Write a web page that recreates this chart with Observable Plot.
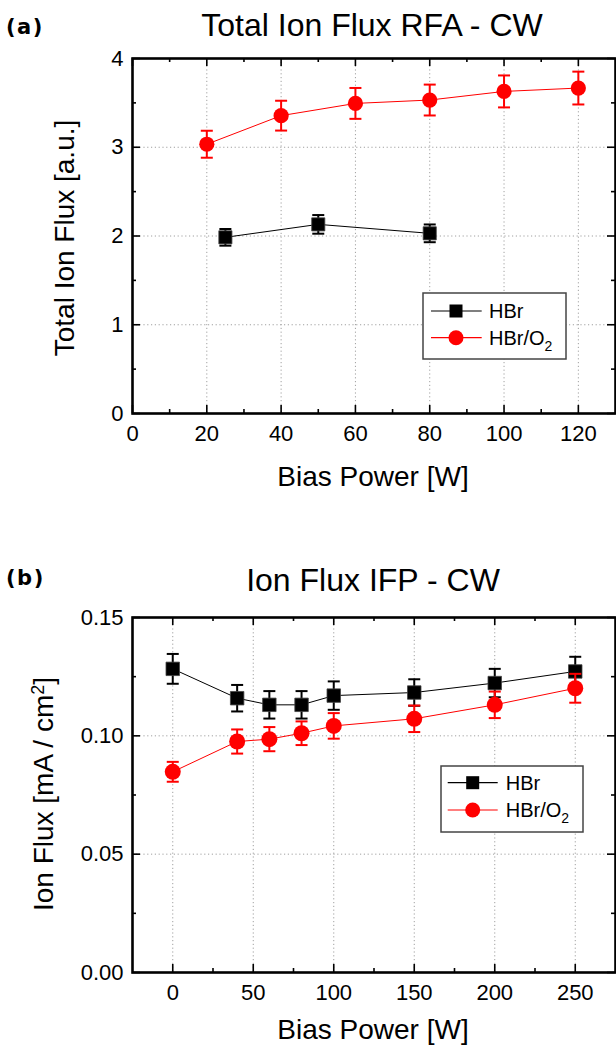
<!DOCTYPE html>
<html><head><meta charset="utf-8">
<script src="https://cdn.jsdelivr.net/npm/d3@7"></script>
<script src="https://cdn.jsdelivr.net/npm/@observablehq/plot@0.6"></script>
<style>
html,body{margin:0;padding:0;background:#fff;}
#root{position:relative;width:616px;height:1049px;overflow:hidden;font-family:"Liberation Sans",Arial,sans-serif;color:#000;background:#fff;}
.abs{position:absolute;white-space:nowrap;line-height:1;}
.title{font-size:32px;transform:translateX(-50%);}
.panel{font-family:"DejaVu Sans",Verdana,sans-serif;font-weight:bold;font-size:21px;letter-spacing:1.5px;}
.xlab{font-size:28px;transform:translateX(-50%);}
.ylab{font-size:28px;transform:translate(-50%,-50%) rotate(-90deg);}
.ylab sup{font-size:18px;line-height:0;vertical-align:9px;}
.plot{position:absolute;left:0;}
</style></head>
<body><div id="root"></div>
<script>
// ---------- data: panel (a) Total Ion Flux RFA - CW ----------
const powerA_HBr = [25, 50, 80];
const fluxA_HBr  = [1.985, 2.131, 2.030];
const errA_HBr   = [0.094, 0.105, 0.100];
const powerA_O2  = [20, 40, 60, 80, 100, 120];
const fluxA_O2   = [3.034, 3.356, 3.494, 3.532, 3.629, 3.667];
const errA_O2    = [0.152, 0.168, 0.174, 0.174, 0.180, 0.185];

// ---------- data: panel (b) Ion Flux IFP - CW ----------
const powerB     = [0, 40, 60, 80, 100, 150, 200, 250];
const fluxB_HBr  = [0.1283, 0.1159, 0.1131, 0.1131, 0.1170, 0.1183, 0.1223, 0.1272];
const errB_HBr   = [0.0063, 0.0056, 0.0058, 0.0058, 0.0060, 0.0056, 0.0060, 0.0062];
const fluxB_O2   = [0.0848, 0.0976, 0.0986, 0.1011, 0.1042, 0.1072, 0.1131, 0.1201];
const errB_O2    = [0.0042, 0.0051, 0.0051, 0.0050, 0.0054, 0.0056, 0.0056, 0.0061];

// ---------- ticks ----------
const xMajorA = [0, 20, 40, 60, 80, 100, 120];
const xMinorA = [10, 30, 50, 70, 90, 110];
const yMajorA = [0, 1, 2, 3, 4];
const yMinorA = [0.5, 1.5, 2.5, 3.5];
const xMajorB = [0, 50, 100, 150, 200, 250];
const xMinorB = [25, 75, 125, 175, 225];
const yMajorB = [0, 0.05, 0.10, 0.15];
const yMinorB = [0.025, 0.075, 0.125];

const seriesNames = ["HBr", "HBr/O2"];
const seriesColors = ["#000000", "#ff0000"];

function rows(xs, ys, es) {
  return xs.map((x, i) => ({x, y: ys[i], lo: ys[i] - es[i], hi: ys[i] + es[i]}));
}

const capSymbol = {
  draw(ctx, size) { const w = Math.sqrt(size / Math.PI); ctx.moveTo(-w, 0); ctx.lineTo(w, 0); }
};

function seriesMarks(data, color, symbol, r) {
  return [
    Plot.line(data, {x: "x", y: "y", stroke: color, strokeWidth: 1}),
    Plot.ruleX(data, {x: "x", y1: "lo", y2: "hi", stroke: color, strokeWidth: 2}),
    Plot.dot(data, {x: "x", y: "hi", symbol: capSymbol, r: 6, stroke: color, strokeWidth: 2, fill: "none"}),
    Plot.dot(data, {x: "x", y: "lo", symbol: capSymbol, r: 6, stroke: color, strokeWidth: 2, fill: "none"}),
    Plot.dot(data, {x: "x", y: "y", symbol, r, fill: color, stroke: symbol === "square" ? "#444" : "none", strokeWidth: 0.8})
  ];
}

const W = 616, ML = 132, MR = 1;

function makePanel(o) {
  const grid = {stroke: "#a0a0a0", strokeOpacity: 1, strokeWidth: 1, strokeDasharray: "1.2,2.6"};
  const fh = o.height - o.mt - o.mb;   // frame height in px
  const fw = W - ML - MR;              // frame width in px
  const t = {stroke: "#000", strokeWidth: 1.6};
  const inward = (len) => [
    // bottom & top
    Plot.tickX(len === 8 ? o.xMajor : o.xMinor, {...t, x: d => d, insetTop: fh - len}),
    Plot.tickX(len === 8 ? o.xMajor : o.xMinor, {...t, x: d => d, insetBottom: fh - len}),
    // left & right
    Plot.tickY(len === 8 ? o.yMajor : o.yMinor, {...t, y: d => d, insetRight: fw - len}),
    Plot.tickY(len === 8 ? o.yMajor : o.yMinor, {...t, y: d => d, insetLeft: fw - len})
  ];
  return Plot.plot({
    width: W, height: o.height,
    marginTop: o.mt, marginBottom: o.mb, marginLeft: ML, marginRight: MR,
    x: {domain: o.xDomain},
    y: {domain: o.yDomain},
    style: {fontFamily: "'Liberation Sans', Arial, sans-serif", fontSize: "22px", color: "#000", background: "transparent", overflow: "visible"},
    marks: [
      Plot.gridX(o.xGrid, grid),
      Plot.gridY(o.yGrid, grid),
      ...o.series.flatMap(s => seriesMarks(s.data, s.color, s.symbol, s.r)),
      // tick labels
      Plot.axisX(o.xMajor, {label: null, anchor: "bottom", tickSize: 0, tickPadding: 12, tickFormat: o.xFmt}),
      Plot.axisY(o.yMajor, {label: null, anchor: "left", tickSize: 0, tickPadding: 9, tickFormat: o.yFmt}),
      // inward ticks on all four sides
      ...inward(8),
      ...inward(4),
      Plot.frame({stroke: "#000", strokeWidth: 2.6})
    ]
  });
}

const root = document.getElementById("root");

function addDiv(cls, html, left, top) {
  const d = document.createElement("div");
  d.className = "abs " + cls;
  d.innerHTML = html;
  d.style.left = left + "px";
  d.style.top = top + "px";
  root.appendChild(d);
  return d;
}

function addLegend(left, top, w, h, rowY, lineX1, lineX2, markX, textX) {
  const svg = d3.create("svg").attr("width", w + 2).attr("height", h + 2)
    .style("position", "absolute").style("left", (left - 1) + "px").style("top", (top - 1) + "px")
    .style("overflow", "visible");
  svg.append("rect").attr("x", 1).attr("y", 1).attr("width", w).attr("height", h)
    .attr("fill", "#fff").attr("stroke", "#444").attr("stroke-width", 1.5);
  seriesNames.forEach((name, i) => {
    const y = rowY[i] + 1, c = seriesColors[i];
    svg.append("line").attr("x1", lineX1 + 1).attr("x2", lineX2 + 1).attr("y1", y).attr("y2", y)
      .attr("stroke", c).attr("stroke-width", 1.2);
    if (i === 0) {
      svg.append("rect").attr("x", markX + 1 - 6.5).attr("y", y - 6.5).attr("width", 13).attr("height", 13).attr("fill", c);
    } else {
      svg.append("circle").attr("cx", markX + 1).attr("cy", y).attr("r", 7.5).attr("fill", c);
    }
    const t = svg.append("text").attr("x", textX + 1).attr("y", y + 7.2)
      .attr("font-family", "'Liberation Sans', Arial, sans-serif").attr("font-size", 20).attr("fill", "#000");
    if (name === "HBr/O2") {
      t.append("tspan").text("HBr/O");
      t.append("tspan").attr("dy", 6).attr("font-size", 14).text("2");
    } else t.text(name);
  });
  root.appendChild(svg.node());
}

// ---------- panel (a) ----------
const plotA = makePanel({
  height: 524, mt: 58, mb: 111,
  xDomain: [0, 130], yDomain: [0, 4],
  xMajor: xMajorA, xMinor: xMinorA, yMajor: yMajorA, yMinor: yMinorA,
  xGrid: xMajorA.slice(1), yGrid: [1, 2, 3],
  xFmt: d => String(d), yFmt: d => String(d),
  series: [
    {data: rows(powerA_HBr, fluxA_HBr, errA_HBr), color: seriesColors[0], symbol: "square", r: 7.4},
    {data: rows(powerA_O2, fluxA_O2, errA_O2), color: seriesColors[1], symbol: "circle", r: 7.6}
  ]
});
plotA.classList.add("plot");
plotA.style.top = "0px";
root.appendChild(plotA);

// ---------- panel (b) ----------
const plotB = makePanel({
  height: 525, mt: 93, mb: 77,
  xDomain: [-25, 275], yDomain: [0, 0.15],
  xMajor: xMajorB, xMinor: xMinorB, yMajor: yMajorB, yMinor: yMinorB,
  xGrid: xMajorB, yGrid: [0.05, 0.10],
  xFmt: d => String(d), yFmt: d3.format(".2f"),
  series: [
    {data: rows(powerB, fluxB_HBr, errB_HBr), color: seriesColors[0], symbol: "square", r: 7.6},
    {data: rows(powerB, fluxB_O2, errB_O2), color: seriesColors[1], symbol: "circle", r: 8}
  ]
});
plotB.classList.add("plot");
plotB.style.top = "524px";
root.appendChild(plotB);

// ---------- texts ----------
addDiv("panel", "(a)", 6, 17);
addDiv("title", "Total Ion Flux RFA - CW", 372, 9);
addDiv("xlab", "Bias Power [W]", 373, 463);
addDiv("ylab", "Total Ion Flux [a.u.]", 65, 238);

addDiv("panel", "(b)", 6, 568);
addDiv("title", "Ion Flux IFP - CW", 373, 564);
addDiv("xlab", "Bias Power [W]", 373, 1016);
addDiv("ylab", "Ion Flux [mA / cm<sup>2</sup>]", 44, 794);

// ---------- legends ----------
addLegend(423, 293, 143, 66, [18, 44.7], 8, 58.7, 33, 66);
addLegend(441, 766, 142, 66, [16.7, 44], 6.7, 56.7, 31.7, 64.7);
</script></body></html>
